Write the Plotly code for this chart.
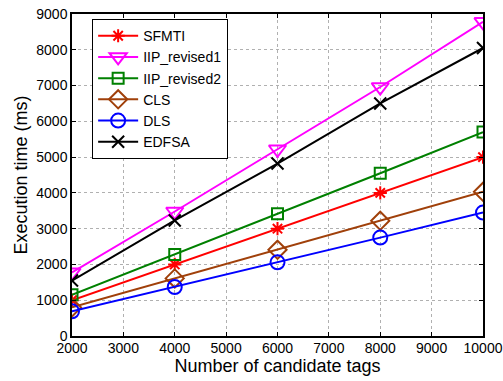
import plotly.graph_objects as go

x = [2000, 4000, 6000, 8000, 10000]
sfmti = [1000, 2000, 3000, 4000, 5000]
iip1 = [1780, 3480, 5220, 6960, 8780]
iip2 = [1150, 2280, 3420, 4550, 5700]
cls = [800, 1610, 2410, 3220, 4030]
dls = [690, 1370, 2060, 2750, 3450]
edfsa = [1550, 3230, 4820, 6500, 8050]

series = [
    ("SFMTI", sfmti, "#ff0000", "asterisk-open", 11),
    ("IIP_revised1", iip1, "#ff00ff", "triangle-down-open", 15),
    ("IIP_revised2", iip2, "#008000", "square-open", 11),
    ("CLS", cls, "#a0400a", "diamond-open", 14),
    ("DLS", dls, "#0000ff", "circle-open", 14),
    ("EDFSA", edfsa, "#000000", "x-thin-open", 12),
]

fig = go.Figure()
for name, y, c, sym, sz in series:
    fig.add_trace(go.Scatter(
        x=x, y=y, name=name, mode="lines+markers",
        line=dict(color=c, width=2),
        marker=dict(symbol=sym, size=sz, color=c, line=dict(color=c, width=2)),
    ))

axis_common = dict(
    showline=True, linecolor="black", linewidth=1.5, mirror="ticks",
    ticks="inside", ticklen=4, tickcolor="black",
    showgrid=True, gridcolor="#b0b0b0", griddash="dot", gridwidth=1,
    zeroline=False, automargin=False, tickformat="d",
    tickfont=dict(family="Liberation Sans, Arial", size=14, color="black"),
)

fig.update_xaxes(range=[2000, 10000], dtick=1000, **axis_common, ticklabelstandoff=-2,
                 title=dict(text="Number of candidate tags", font=dict(family="Liberation Sans, Arial", size=18, color="black"), standoff=2))
fig.update_yaxes(range=[0, 9000], dtick=1000, **axis_common,
                 title=dict(text="Execution time (ms)", font=dict(family="Liberation Sans, Arial", size=18, color="black"), standoff=4))

fig.update_layout(
    width=503, height=381,
    margin=dict(l=72, r=20, t=14, b=45),
    plot_bgcolor="white", paper_bgcolor="white",
    legend=dict(x=0.049, y=0.984, xanchor="left", yanchor="top",
                bgcolor="white", bordercolor="black", borderwidth=1,
                font=dict(family="Liberation Sans, Arial", size=14, color="black"),
                tracegroupgap=0, itemwidth=40),
    showlegend=True,
)

fig.write_html("out.html")
